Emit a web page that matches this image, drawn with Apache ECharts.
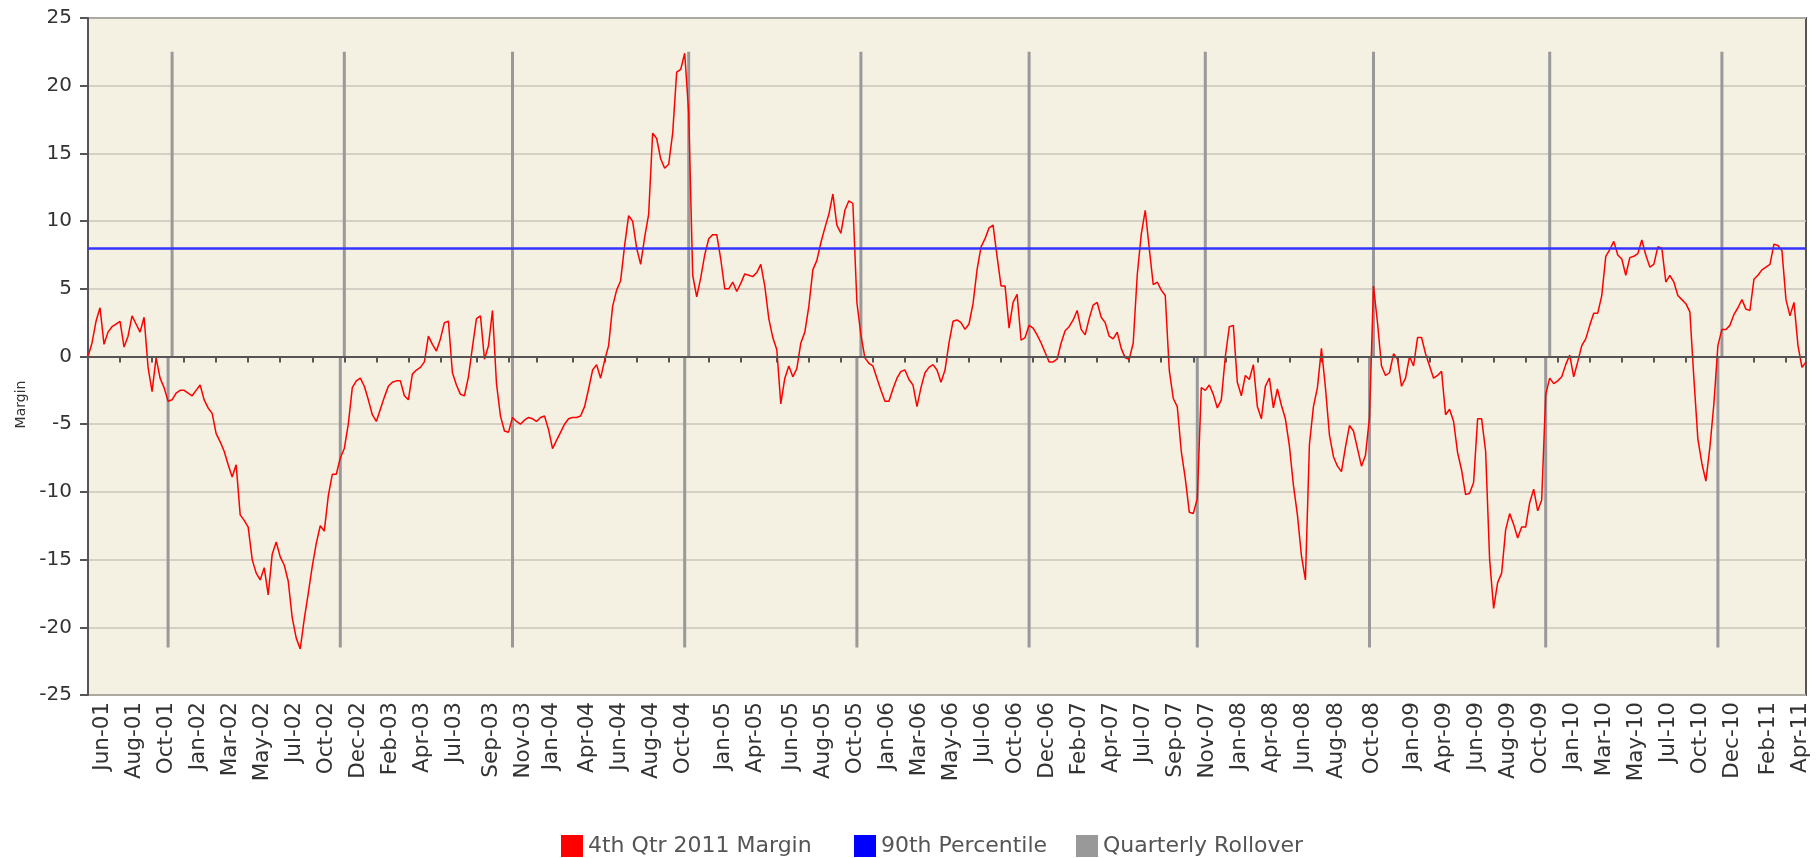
<!DOCTYPE html>
<html><head><meta charset="utf-8">
<script src="https://cdn.jsdelivr.net/npm/echarts@6/dist/echarts.min.js"></script>
<style>html,body{margin:0;padding:0;background:#fff}#c{width:1820px;height:858px}</style>
</head><body><div id="c"></div>
<script>
// 4th Qtr 2011 Margin, one value per (roughly weekly) observation
const margin = [
0.0,1.0,2.6,3.6,0.9,1.8,2.2,2.4,2.6,0.7,
1.5,3.0,2.4,1.8,2.9,-0.8,-2.6,-0.1,-1.6,-2.3,
-3.3,-3.2,-2.7,-2.5,-2.5,-2.7,-2.9,-2.5,-2.1,-3.2,
-3.8,-4.2,-5.7,-6.3,-7.0,-8.0,-8.9,-8.0,-11.7,-12.1,
-12.6,-15.0,-16.0,-16.5,-15.6,-17.6,-14.6,-13.7,-14.8,-15.4,
-16.6,-19.3,-20.8,-21.6,-19.4,-17.5,-15.5,-13.8,-12.5,-12.9,
-10.3,-8.7,-8.7,-7.5,-6.8,-5.0,-2.3,-1.8,-1.6,-2.2,
-3.2,-4.3,-4.8,-3.9,-3.0,-2.2,-1.9,-1.8,-1.8,-2.9,
-3.2,-1.3,-1.0,-0.8,-0.4,1.5,0.9,0.4,1.3,2.5,
2.6,-1.2,-2.1,-2.8,-2.9,-1.5,0.7,2.8,3.0,-0.2,
0.8,3.4,-2.0,-4.4,-5.5,-5.6,-4.5,-4.8,-5.0,-4.7,
-4.5,-4.6,-4.8,-4.5,-4.4,-5.4,-6.8,-6.2,-5.6,-5.0,
-4.6,-4.5,-4.5,-4.4,-3.7,-2.4,-1.0,-0.6,-1.6,-0.3,
0.8,3.7,4.9,5.6,8.2,10.4,10.0,8.0,6.8,8.8,
10.5,16.5,16.1,14.6,13.9,14.2,16.5,21.0,21.2,22.4,
18.0,6.0,4.4,5.8,7.5,8.7,9.0,9.0,7.2,5.0,
5.0,5.5,4.8,5.4,6.1,6.0,5.9,6.2,6.8,5.2,
2.8,1.4,0.5,-3.5,-1.6,-0.7,-1.5,-0.9,1.0,1.8,
3.7,6.4,7.1,8.4,9.5,10.5,12.0,9.7,9.1,10.8,
11.5,11.3,4.0,1.6,-0.1,-0.5,-0.7,-1.6,-2.5,-3.3,
-3.3,-2.4,-1.6,-1.1,-1.0,-1.7,-2.1,-3.7,-2.3,-1.2,
-0.8,-0.6,-1.0,-1.9,-1.0,1.0,2.6,2.7,2.5,2.0,
2.4,3.9,6.4,8.1,8.7,9.5,9.7,7.4,5.2,5.2,
2.1,4.0,4.6,1.2,1.4,2.3,2.1,1.6,1.0,0.3,
-0.4,-0.4,-0.2,1.0,1.9,2.2,2.7,3.4,2.0,1.6,
2.8,3.8,4.0,2.9,2.5,1.5,1.3,1.8,0.6,-0.1,
-0.2,1.0,6.0,9.0,10.8,8.0,5.3,5.5,4.9,4.5,
-1.0,-3.1,-3.7,-7.0,-9.0,-11.5,-11.6,-10.5,-2.3,-2.5,
-2.1,-2.8,-3.8,-3.2,0.0,2.2,2.3,-1.9,-2.9,-1.4,
-1.7,-0.6,-3.7,-4.6,-2.2,-1.6,-3.8,-2.4,-3.6,-4.6,
-6.6,-9.5,-11.7,-14.7,-16.5,-6.5,-3.7,-2.3,0.6,-2.3,
-5.8,-7.4,-8.1,-8.5,-6.7,-5.1,-5.5,-6.8,-8.1,-7.3,
-4.5,5.2,2.5,-0.7,-1.4,-1.2,0.2,-0.2,-2.2,-1.6,
0.0,-0.7,1.4,1.4,0.2,-0.7,-1.6,-1.4,-1.1,-4.3,
-3.9,-4.8,-7.1,-8.4,-10.2,-10.1,-9.3,-4.6,-4.6,-7.0,
-15.0,-18.6,-16.7,-16.0,-12.8,-11.6,-12.4,-13.4,-12.6,-12.6,
-10.8,-9.8,-11.4,-10.6,-2.8,-1.6,-2.0,-1.8,-1.5,-0.6,
0.1,-1.5,-0.4,0.8,1.3,2.3,3.2,3.2,4.5,7.4,
7.9,8.5,7.5,7.2,6.0,7.3,7.4,7.6,8.6,7.5,
6.6,6.8,8.1,8.0,5.5,6.0,5.5,4.5,4.2,3.9,
3.3,-1.6,-6.1,-7.9,-9.2,-6.7,-3.5,0.8,2.0,2.0,
2.3,3.1,3.6,4.2,3.5,3.4,5.7,6.0,6.4,6.6,
6.8,8.3,8.2,7.8,4.2,3.0,4.0,0.8,-0.8,-0.4
];

// x-axis tick labels and the observation index where each one sits
const tickLabels = ['Jun-01','Aug-01','Oct-01','Jan-02','Mar-02','May-02','Jul-02','Oct-02','Dec-02',
  'Feb-03','Apr-03','Jul-03','Sep-03','Nov-03','Jan-04','Apr-04','Jun-04','Aug-04','Oct-04',
  'Jan-05','Apr-05','Jun-05','Aug-05','Oct-05','Jan-06','Mar-06','May-06','Jul-06','Oct-06','Dec-06',
  'Feb-07','Apr-07','Jul-07','Sep-07','Nov-07','Jan-08','Apr-08','Jun-08','Aug-08','Oct-08',
  'Jan-09','Apr-09','Jun-09','Aug-09','Oct-09','Jan-10','Mar-10','May-10','Jul-10','Oct-10','Dec-10',
  'Feb-11','Apr-11'];
const tickIdx = [0,8,16,24,32,40,48,56,64,
  72,80,88,97,105,112,121,129,137,145,
  155,163,172,180,188,196,204,212,220,228,236,
  244,252,260,268,276,284,292,300,308,317,
  327,335,343,351,359,367,375,383,391,399,407,
  416,424];

// 90th percentile level
const percentile90 = 8;

// Quarterly rollover markers: positive stem and negative stem positions
const rolloverTop = 22.5;
const rolloverBottom = -21.5;
const rolloverUpIdx = [21,64,106,150,193,235,279,321,365,408];
const rolloverDownIdx = [20,63,106,149,192,235,277,320,364,407];

// y-axis
const yMin = -25, yMax = 25, yStep = 5;

const N = margin.length;
const cats = margin.map((_, i) => String(i));
const tickMap = new Map(tickIdx.map((k, j) => [k, tickLabels[j]]));
const upData = new Array(N).fill(null);
rolloverUpIdx.forEach(k => { upData[k] = rolloverTop; });
const downData = new Array(N).fill(null);
rolloverDownIdx.forEach(k => { downData[k] = rolloverBottom; });

const FONT = 'DejaVu Sans';
const legendText = {fontFamily: FONT, fontSize: 22, color: '#555'};
function legendAt(left, name) {
  return {left: left, top: 830, icon: 'rect', itemWidth: 22, itemHeight: 22,
    textStyle: legendText, data: [name], selectedMode: false};
}
const chart = echarts.init(document.getElementById('c'), null, {renderer: 'canvas'});
chart.setOption({
  animation: false,
  textStyle: {fontFamily: FONT},
  grid: {left: 88, right: 14, top: 18, bottom: 163, show: true,
    backgroundColor: '#f4f0e2', borderColor: '#555', borderWidth: 2, containLabel: false},
  legend: [
    legendAt(556, '4th Qtr 2011 Margin'),
    legendAt(849, '90th Percentile'),
    legendAt(1071, 'Quarterly Rollover')
  ],
  xAxis: {
    type: 'category', data: cats, boundaryGap: false,
    axisLine: {lineStyle: {color: '#555', width: 2}},
    axisTick: {interval: (i) => tickMap.has(i), length: 6, lineStyle: {color: '#555', width: 2}},
    axisLabel: {interval: (i) => tickMap.has(i), formatter: (v, i) => tickMap.get(i) || '',
      rotate: 90, margin: 7, fontSize: 21.5, color: '#333', fontFamily: FONT,
      verticalAlign: 'top', lineHeight: 29},
    splitLine: {show: false}
  },
  yAxis: {
    type: 'value', min: yMin, max: yMax, interval: yStep,
    name: 'Margin', nameLocation: 'middle', nameGap: 60,
    nameTextStyle: {fontFamily: FONT, fontSize: 14, color: '#333', padding: [0, 96, 0, 0]},
    axisLine: {show: true, lineStyle: {color: '#555', width: 2}},
    axisTick: {show: true, length: 8, lineStyle: {color: '#555', width: 2}},
    axisLabel: {fontSize: 20, color: '#333', margin: 16, fontFamily: FONT},
    splitLine: {lineStyle: {color: '#cac6bb', width: 1.5}}
  },
  series: [
    {name: 'Quarterly Rollover', type: 'bar', data: upData, barWidth: 3, barGap: '-100%',
      itemStyle: {color: '#999999'}, silent: true,
      markLine: {silent: true, symbol: 'none', label: {show: false},
        lineStyle: {color: '#555', width: 2, type: 'solid'}, data: [{yAxis: 0}]}},
    {name: 'Quarterly Rollover', type: 'bar', data: downData, barWidth: 3, barGap: '-100%',
      itemStyle: {color: '#999999'}, silent: true},
    {name: '90th Percentile', type: 'line', data: [], color: '#0000ff', silent: true,
      markLine: {silent: true, symbol: 'none', label: {show: false},
        lineStyle: {color: '#3535ff', width: 2.5, type: 'solid'}, data: [{yAxis: percentile90}]}},
    {name: '4th Qtr 2011 Margin', type: 'line', data: margin, color: '#ff0000',
      showSymbol: false, symbol: 'none', lineStyle: {color: '#ff0000', width: 1.5}, silent: true}
  ]
});
</script></body></html>
